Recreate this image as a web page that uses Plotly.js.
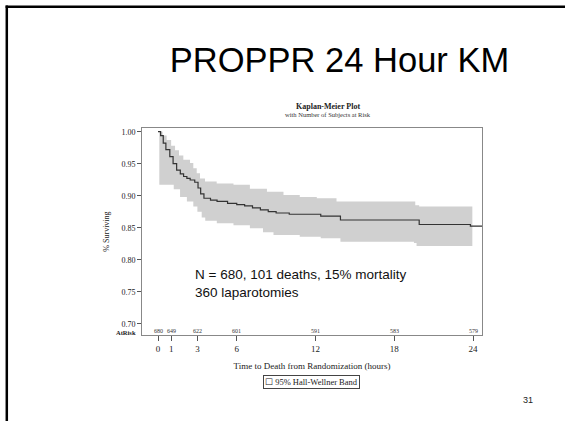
<!DOCTYPE html>
<html>
<head>
<meta charset="utf-8">
<script src="https://cdn.plot.ly/plotly-3.0.1.min.js"></script>
<style>html,body{margin:0;padding:0;background:#fff;}#chart{width:565px;height:421px;}</style>
</head>
<body>
<div id="chart"></div>
<script>
// ---- data ----
const kmTimes = [0, 0.2, 0.4, 0.6, 0.9, 1.15, 1.42, 1.7, 1.95, 2.2, 2.45, 2.8, 3.05, 3.25, 3.5, 4.0, 4.5, 5.3, 6.0, 6.6, 7.2, 7.8, 8.4, 9.0, 10.0, 12.4, 13.9, 19.9, 23.8, 24.7];
const kmSurv  = [1.0, 0.994, 0.982, 0.972, 0.961, 0.950, 0.940, 0.934, 0.930, 0.927, 0.9245, 0.921, 0.912, 0.903, 0.896, 0.893, 0.891, 0.888, 0.886, 0.884, 0.881, 0.878, 0.875, 0.873, 0.871, 0.868, 0.862, 0.855, 0.8525, 0.8525];

const upperTimes = [0.1, 0.35, 0.66, 1.0, 1.3, 1.6, 1.93, 2.44, 2.69, 2.95, 3.2, 3.58, 4.47, 5.75, 7.0, 8.3, 9.56, 10.8, 12.1, 13.6, 19.6, 19.9, 23.95];
const upperSurv  = [1.0, 0.994, 0.987, 0.978, 0.971, 0.963, 0.956, 0.951, 0.943, 0.935, 0.927, 0.922, 0.919, 0.917, 0.911, 0.906, 0.901, 0.898, 0.896, 0.891, 0.885, 0.883, 0.883];

const lowerTimes = [0.1, 0.91, 1.2, 1.68, 2.2, 2.69, 3.0, 3.33, 3.6, 4.48, 5.75, 7.0, 8.0, 8.8, 10.8, 12.4, 13.9, 19.5, 19.7, 23.95];
const lowerSurv  = [0.917, 0.917, 0.910, 0.898, 0.891, 0.883, 0.875, 0.866, 0.861, 0.857, 0.854, 0.849, 0.843, 0.8386, 0.836, 0.8335, 0.828, 0.826, 0.8215, 0.8215];

const riskTimes  = [0, 1, 3, 6, 12, 18, 24];
const riskCounts = [680, 649, 622, 601, 591, 583, 579];
const xTickVals  = [0, 1, 3, 6, 12, 18, 24];
const yTickVals  = [0.70, 0.75, 0.80, 0.85, 0.90, 0.95, 1.00];

const slideTitle = "PROPPR 24 Hour KM";
const plotTitle = "Kaplan-Meier Plot";
const plotSubtitle = "with Number of Subjects at Risk";
const xTitle = "Time to Death from Randomization (hours)";
const yTitle = "% Surviving";
const bandName = "95% Hall-Wellner Band";
const noteText = "N = 680, 101 deaths, 15% mortality<br>360 laparotomies";
const pageNumber = "31";

// ---- layout geometry (pixels) ----
const W = 565, H = 421;
const L = 142, R = 482, T = 128, B = 335;
const pw = R - L, ph = B - T;
const px2x = p => (p - L) / pw;
const px2y = p => (B - p) / ph;
const serif = "Liberation Serif, Times New Roman, serif";
const sans = "Liberation Sans, Arial, sans-serif";

const traces = [
  {x: lowerTimes, y: lowerSurv, mode: 'lines', line: {width: 0, shape: 'hv', color: '#d0d0d0'},
   showlegend: false, hoverinfo: 'skip'},
  {x: upperTimes, y: upperSurv, mode: 'lines', line: {width: 0, shape: 'hv', color: '#d0d0d0'},
   fill: 'tonexty', fillcolor: '#d0d0d0', name: bandName, showlegend: false},
  {x: kmTimes, y: kmSurv, mode: 'lines', line: {width: 1.2, shape: 'hv', color: '#333'},
   showlegend: false}
];

const annotations = [
  {xref: 'paper', yref: 'paper', x: px2x(328), y: px2y(106), text: '<b>' + plotTitle + '</b>',
   showarrow: false, font: {family: serif, size: 8, color: '#222'}, xanchor: 'center', yanchor: 'middle'},
  {xref: 'paper', yref: 'paper', x: px2x(328), y: px2y(115), text: plotSubtitle,
   showarrow: false, font: {family: serif, size: 6.5, color: '#333'}, xanchor: 'center', yanchor: 'middle'},
  {xref: 'paper', yref: 'paper', x: px2x(193), y: px2y(283), text: noteText, align: 'left',
   showarrow: false, font: {family: sans, size: 13.5, color: '#111'}, xanchor: 'left', yanchor: 'middle'},
  {xref: 'paper', yref: 'paper', x: px2x(138), y: px2y(332.5), text: '<b>AtRisk</b>',
   showarrow: false, font: {family: serif, size: 6.5, color: '#222'}, xanchor: 'right', yanchor: 'middle'},
  {xref: 'paper', yref: 'paper', x: px2x(311), y: px2y(381.5), text: '\u2610 ' + bandName,
   showarrow: false, font: {family: serif, size: 8.5, color: '#222'}, xanchor: 'center', yanchor: 'middle',
   bordercolor: '#444', borderwidth: 1, borderpad: 1, bgcolor: '#fff'},
  {xref: 'paper', yref: 'paper', x: px2x(528), y: px2y(400), text: pageNumber,
   showarrow: false, font: {family: sans, size: 9, color: '#222'}, xanchor: 'center', yanchor: 'middle'}
];
riskTimes.forEach((t, i) => {
  annotations.push({xref: 'x', yref: 'paper', x: t, y: px2y(330.5), text: String(riskCounts[i]),
    showarrow: false, font: {family: serif, size: 6, color: '#333'}, xanchor: 'center', yanchor: 'middle'});
});

const shapes = [
  {type: 'line', xref: 'paper', yref: 'paper', x0: px2x(6.8), x1: px2x(6.8), y0: px2y(5.6), y1: px2y(H + 2),
   line: {color: '#000', width: 2.5}},
  {type: 'line', xref: 'paper', yref: 'paper', x0: px2x(5.6), x1: px2x(W + 2), y0: px2y(6.8), y1: px2y(6.8),
   line: {color: '#000', width: 2.5}}
];

const layout = {
  width: W, height: H,
  margin: {l: L, r: W - R, t: T, b: H - B, pad: 0},
  paper_bgcolor: '#fff', plot_bgcolor: '#fff',
  title: {text: slideTitle, font: {family: sans, size: 34.5, color: '#000'},
          x: 339.5 / W, xanchor: 'center', y: 1 - 60 / H, yanchor: 'middle', xref: 'container', yref: 'container'},
  xaxis: {
    range: [(L - 158) / 13.125, (R - 158) / 13.125],
    tickvals: xTickVals, ticktext: xTickVals.map(String),
    ticks: 'outside', ticklen: 5, tickcolor: '#555', tickwidth: 1,
    showline: true, linecolor: '#888', linewidth: 1, mirror: true,
    showgrid: false, zeroline: false,
    tickfont: {family: serif, size: 9, color: '#222'},
    title: {text: xTitle, font: {family: serif, size: 9, color: '#222'}, standoff: 9}
  },
  yaxis: {
    range: [1 - (B - 131.7) / 640, 1 + (131.7 - T) / 640],
    tickvals: yTickVals, ticktext: yTickVals.map(v => v.toFixed(2)),
    ticks: 'outside', ticklen: 4, tickcolor: '#555', tickwidth: 1,
    showline: true, linecolor: '#888', linewidth: 1, mirror: true,
    showgrid: false, zeroline: false,
    tickfont: {family: serif, size: 8, color: '#222'},
    title: {text: yTitle, font: {family: serif, size: 8, color: '#222'}, standoff: 10}
  },
  showlegend: false,
  annotations: annotations,
  shapes: shapes
};

Plotly.newPlot('chart', traces, layout, {displayModeBar: false, staticPlot: true});
</script>
</body>
</html>
